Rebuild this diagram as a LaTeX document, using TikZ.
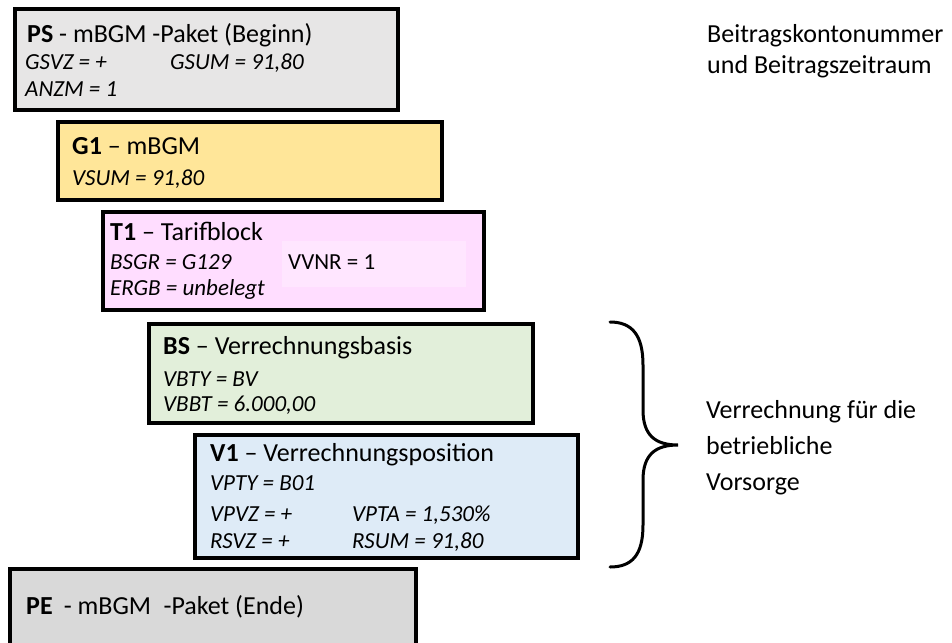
\documentclass[tikz,border=0pt]{standalone}
\usepackage{fontspec}
\setmainfont{Carlito}
\definecolor{psgray}{HTML}{E7E6E6}
\definecolor{gorange}{HTML}{FFE699}
\definecolor{tpink}{HTML}{FFDDFF}
\definecolor{tpinklight}{HTML}{FFE6FF}
\definecolor{bsgreen}{HTML}{E2EFDA}
\definecolor{vblue}{HTML}{DEEBF7}
\definecolor{pegray}{HTML}{D9D9D9}
\begin{document}
\begin{tikzpicture}[x=1pt,y=-1pt,
  box/.style={draw=black, line width=3.5pt, anchor=north west, inner sep=0pt, outer sep=0pt},
  ttl/.style={anchor=base west, inner sep=0pt, font=\fontsize{26}{30}\selectfont},
  fld/.style={anchor=base west, inner sep=0pt, font=\fontsize{23}{27}\selectfont\itshape},
  plain/.style={anchor=base west, inner sep=0pt, font=\fontsize{23}{27}\selectfont},
  note/.style={anchor=base west, inner sep=0pt, font=\fontsize{26}{30}\selectfont},
  brace/.style={draw=black, line width=3pt, line cap=round}]
\useasboundingbox (0,0) rectangle (952,642);
% boxes
\node[box, fill=psgray, minimum width=383pt, minimum height=101pt] (ps) at (15,9) {};
\node[box, fill=gorange, minimum width=384pt, minimum height=78pt] (g1) at (58,122) {};
\node[box, fill=tpink, minimum width=381pt, minimum height=98pt] (t1) at (103,212) {};
\node[anchor=north west, inner sep=0pt, fill=tpinklight, minimum width=184pt, minimum height=46pt] (t1in) at (282,241) {};
\node[box, fill=bsgreen, minimum width=384pt, minimum height=99pt] (bs) at (149,324) {};
\node[box, fill=vblue, minimum width=383pt, minimum height=123pt] (v1) at (195,435) {};
\node[box, fill=pegray, minimum width=406pt, minimum height=80pt] (pe) at (10,569) {};
% texts PS
\node[ttl] (pst) at (27,42) {\textbf{PS} - mBGM -Paket (Beginn)};
\node[fld] (psa) at (25,70) {GSVZ = +};
\node[fld] (psb) at (170,70) {GSUM = 91,80};
\node[fld] (psc) at (25,96) {ANZM = 1};
% G1
\node[ttl] (g1t) at (72,154) {\textbf{G1} – mBGM};
\node[fld] (g1a) at (72,185) {VSUM = 91,80};
% T1
\node[ttl] (t1t) at (110,240) {\textbf{T1} – Tarifblock};
\node[fld] (t1a) at (110,269) {BSGR = G129};
\node[plain] (t1b) at (288,269) {VVNR = 1};
\node[fld] (t1c) at (110,295) {ERGB = unbelegt};
% BS
\node[ttl] (bst) at (163,354) {\textbf{BS} – Verrechnungsbasis};
\node[fld] (bsa) at (163,386) {VBTY = BV};
\node[fld] (bsb) at (163,411) {VBBT = 6.000,00};
% V1
\node[ttl] (v1t) at (210,461) {\textbf{V1} – Verrechnungsposition};
\node[fld] (v1a) at (210,490) {VPTY = B01};
\node[fld] (v1b) at (210,521) {VPVZ = +};
\node[fld] (v1c) at (352,521) {VPTA = 1,530\%};
\node[fld] (v1d) at (210,548) {RSVZ = +};
\node[fld] (v1e) at (352,548) {RSUM = 91,80};
% PE
\node[ttl] (pet) at (26,614) {\textbf{PE}\hspace{0.2em} - mBGM\hspace{0.25em} -Paket (Ende)};
% right notes
\node[note] (n1) at (707,43) {Beitragskontonummer};
\node[note] (n2) at (707,74) {und Beitragszeitraum};
\node[note] (n3) at (706,418) {Verrechnung für die};
\node[note] (n4) at (706,454) {betriebliche};
\node[note] (n5) at (706,490) {Vorsorge};
% brace
\coordinate (bt) at (610,322);
\coordinate (bm) at (678,445);
\coordinate (bb) at (610,567);
\draw[brace] (bt) .. controls (632,322) and (643,335) .. (643,365)
  -- (643,410) .. controls (643,435) and (655,445) .. (bm)
  .. controls (655,445) and (643,455) .. (643,480)
  -- (643,525) .. controls (643,555) and (632,567) .. (bb);
\end{tikzpicture}
\end{document}
